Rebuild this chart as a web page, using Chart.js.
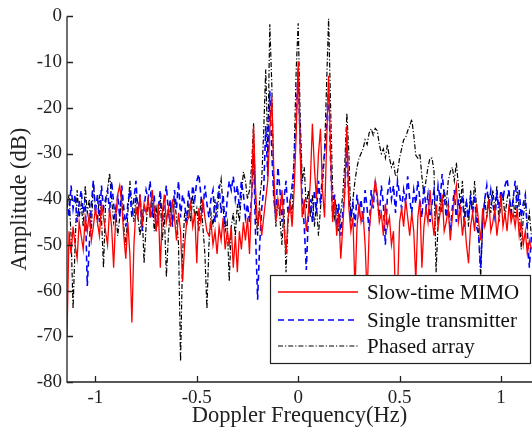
<!DOCTYPE html>
<html>
<head>
<meta charset="utf-8">
<script src="https://cdn.jsdelivr.net/npm/chart.js@4"></script>
<style>
  html, body { margin: 0; padding: 0; background: #fff; }
  #wrap { width: 532px; height: 438px; }
</style>
</head>
<body>
<div id="wrap"><canvas id="spectrum"></canvas></div>
<script>
// frequency grid (Hz): first bin and bin spacing
const freqStart = -1.14
const freqStep = 0.01

const xTicks = [-1, -0.5, 0, 0.5, 1]
const yTicks = [-80, -70, -60, -50, -40, -30, -20, -10, 0]

// Slow-time MIMO (dB)
const mimo = [
  -70, -47, -52, -46, -50, -53, -45, -48, -51, -44,
  -47, -43, -49, -46, -42, -45, -48, -41, -44, -47,
  -50, -42, -46, -55, -44, -39, -37, -41, -48, -53,
  -45, -52, -67, -50, -42, -44, -39, -46, -41, -43,
  -40, -44, -38, -42, -47, -41, -55, -43, -39, -45,
  -42, -46, -40, -44, -49, -43, -47, -58, -50, -45,
  -44, -41, -46, -43, -54, -42, -45, -40, -44, -47,
  -48, -45, -50, -47, -52, -46, -49, -44, -51, -47,
  -50, -46, -55, -48, -56, -47, -51, -45, -49, -44,
  -52, -40, -24, -38, -46, -42, -48, -44, -40, -36,
  -25, -17.6, -34, -45, -40, -43, -38, -46, -52, -44,
  -41, -46, -38, -26, -9.8, -30, -44, -40, -47, -43,
  -36, -23.5, -33, -40, -30, -24.6, -38, -44, -28, -13,
  -30, -45, -40, -48, -43, -53, -46, -38, -24, -42,
  -47, -44, -60, -46, -41, -45, -43, -50, -61, -47,
  -42, -40, -36, -39, -45, -43, -48, -41, -46, -44,
  -50, -47, -62, -60, -45, -42, -46, -40, -44, -48,
  -43, -47, -58, -44, -40, -55, -46, -42, -45, -38,
  -44, -48, -41, -46, -43, -39, -47, -45, -42, -49,
  -44, -40, -37, -45, -42, -48, -44, -50, -54, -46,
  -43, -47, -41, -45, -49, -42, -46, -44, -40, -47,
  -45, -42, -48, -44, -39, -46, -43, -47, -41, -45,
  -43, -46, -42, -48, -45, -50, -47, -52, -49, -51
]

// Single transmitter (dB)
const single = [
  -40, -44, -37, -42, -39, -45, -41, -38, -43, -40,
  -59, -50, -41, -36, -43, -39, -45, -37, -42, -40,
  -38, -43, -36, -41, -45, -39, -44, -37, -42, -46,
  -41, -38, -44, -40, -36, -43, -39, -47, -42, -38,
  -40, -36, -44, -39, -47, -42, -38, -45, -41, -37,
  -43, -40, -46, -38, -42, -36, -44, -39, -41, -45,
  -38, -42, -37, -40, -36, -34.5, -39, -43, -37, -41,
  -44, -40, -38, -45, -41, -37, -43, -39, -46, -40,
  -36, -38, -35, -40, -37, -42, -36, -39, -44, -41,
  -45, -40, -30, -48, -62, -50, -42, -38, -24, -35,
  -16.3, -30, -40, -44, -33, -38, -45, -40, -36, -43,
  -41, -37, -32, -22, -11.5, -28, -40, -46, -55.5, -44,
  -40, -45, -38, -43, -36, -41, -34, -30, -24, -15.6,
  -32, -44, -39, -46, -41, -48, -43, -38, -28, -40,
  -44, -41, -46, -39, -43, -40, -45, -38, -42, -47,
  -38, -42, -36, -40, -44, -37, -41, -50, -39, -36,
  -40, -37, -43, -36, -39, -42, -38, -41, -35, -40,
  -43, -38, -41, -36, -40, -44, -37, -42, -39, -45,
  -41, -38, -43, -37, -40, -34.5, -39, -44, -41, -47,
  -42, -38, -45, -40, -43, -39, -46, -41, -44, -40,
  -43, -39, -46, -48, -55, -45, -40, -37, -42, -38,
  -41, -44, -39, -42, -38, -40, -37, -35.5, -39, -43,
  -40, -36, -42, -38, -44, -41, -39, -47, -55, -48
]

// Phased array (dB)
const phased = [
  -42, -39, -48, -64, -50, -38, -44, -41, -46, -37,
  -43, -40, -47, -36, -42, -45, -39, -44, -55, -41,
  -38, -34.3, -40, -45, -42, -48, -44, -39, -46, -50,
  -43, -36, -41, -45, -39, -44, -48, -42, -54, -46,
  -40, -44, -38, -47, -42, -45, -40, -49, -43, -57,
  -48, -42, -45, -40, -44, -50, -75.5, -52, -43, -46,
  -41, -45, -39, -44, -42, -47, -40, -46, -52, -64,
  -50, -43, -46, -40, -44, -38, -35.5, -42, -47, -45,
  -58, -46, -43, -48, -41, -45, -39, -34, -36, -40,
  -38, -33, -23.4, -42, -48, -40, -36, -25, -11.6, -30,
  -1.7, -15, -38, -46, -40, -44, -50, -42, -56, -45,
  -40, -44, -30, -12, -1.5, -22, -36, -33, -42, -38,
  -44, -39, -46, -41, -48, -42, -37, -30, -15, -0.5,
  -20, -38, -44, -41, -47, -43, -39, -32, -21.2, -30,
  -45, -40, -36, -33, -31, -30, -29, -27, -28, -25.5,
  -24.6, -26, -24.5, -25, -28, -30, -29, -31, -28, -31,
  -33, -32, -35, -34, -31, -29, -27, -26.5, -25, -24,
  -22.5, -26, -30.4, -31, -30, -35, -39, -36, -33, -31,
  -31, -34, -56, -45, -40, -43, -38, -41, -36, -34,
  -33, -36, -32, -37, -41, -36, -44, -40, -46, -38,
  -43, -36, -42, -48, -57, -45, -40, -44, -39, -43,
  -38, -42, -37, -45, -41, -39, -44, -40, -38, -43,
  -40, -44, -37, -42, -51, -44, -40, -46, -43, -48
]

const seriesNames = ['Slow-time MIMO', 'Single transmitter', 'Phased array']
const seriesColors = ['#ff0000', '#0000ff', '#000000']
const seriesDash = [[], [6, 4], [5, 2, 1.2, 2]]
const seriesWidth = [1.3, 1.6, 1.2]

const toPoints = arr => arr.map((v, i) => ({ x: +(freqStart + i * freqStep).toFixed(3), y: v }))

Chart.defaults.font.family = "'Liberation Serif', 'Times New Roman', serif"
Chart.defaults.color = '#222'

// inward tick marks, axis lines and the boxed legend
const axesAndLegend = {
  id: 'axesAndLegend',
  afterDraw(chart) {
    const { ctx, chartArea: a, scales: { x, y } } = chart
    ctx.save()
    ctx.strokeStyle = '#222'
    ctx.lineWidth = 1.3
    ctx.beginPath()
    ctx.moveTo(a.left, a.top)
    ctx.lineTo(a.left, a.bottom)
    ctx.lineTo(a.right, a.bottom)
    xTicks.forEach(v => {
      const px = Math.round(x.getPixelForValue(v)) + 0.5
      ctx.moveTo(px, a.bottom)
      ctx.lineTo(px, a.bottom - 6)
    })
    yTicks.forEach(v => {
      const py = Math.round(y.getPixelForValue(v)) + 0.5
      ctx.moveTo(a.left, py)
      ctx.lineTo(a.left + 6, py)
    })
    ctx.stroke()

    // legend box
    const bx = 270.5, by = 275.5, bw = 260, bh = 88
    ctx.fillStyle = '#fff'
    ctx.fillRect(bx, by, bw, bh)
    ctx.lineWidth = 1.2
    ctx.strokeStyle = '#222'
    ctx.strokeRect(bx, by, bw, bh)
    const rows = [292, 320, 346]
    ctx.font = "21px 'Liberation Serif', serif"
    ctx.textBaseline = 'middle'
    seriesNames.forEach((name, i) => {
      ctx.beginPath()
      ctx.strokeStyle = seriesColors[i]
      ctx.lineWidth = seriesWidth[i]
      ctx.setLineDash(seriesDash[i])
      ctx.moveTo(278, rows[i])
      ctx.lineTo(358, rows[i])
      ctx.stroke()
      ctx.setLineDash([])
      ctx.fillStyle = '#111'
      ctx.fillText(name, 367, rows[i] + 1)
    })
    ctx.restore()
  }
}

new Chart(document.getElementById('spectrum'), {
  type: 'line',
  data: {
    datasets: seriesNames.map((name, i) => ({
      label: name,
      data: toPoints([mimo, single, phased][i]),
      borderColor: seriesColors[i],
      borderDash: seriesDash[i],
      borderWidth: seriesWidth[i],
      pointRadius: 0,
      tension: 0,
      fill: false
    }))
  },
  options: {
    responsive: true,
    maintainAspectRatio: false,
    animation: false,
    events: [],
    layout: { padding: { top: 15, right: 0, left: 0, bottom: 0 } },
    plugins: {
      legend: { display: false },
      tooltip: { enabled: false }
    },
    scales: {
      x: {
        type: 'linear',
        min: -1.14,
        max: 1.153,
        afterBuildTicks: s => { s.ticks = xTicks.map(v => ({ value: v })) },
        afterFit: s => { s.height = 56 },
        grid: { display: false, drawTicks: false },
        border: { display: false },
        ticks: {
          font: { size: 19 },
          padding: 5,
          maxRotation: 0,
          autoSkip: false,
          callback: v => String(v)
        },
        title: {
          display: true,
          text: 'Doppler Frequency(Hz)',
          font: { size: 22.5 },
          padding: { top: 0, bottom: 8 }
        }
      },
      y: {
        min: -80,
        max: 0,
        afterBuildTicks: s => { s.ticks = yTicks.map(v => ({ value: v })) },
        afterFit: s => { s.width = 67 },
        grid: { display: false, drawTicks: false },
        border: { display: false },
        ticks: {
          font: { size: 19 },
          padding: 5,
          callback: v => String(v)
        },
        title: {
          display: true,
          text: 'Amplitude (dB)',
          font: { size: 22.5 },
          padding: { top: 7, bottom: 0 }
        }
      }
    }
  },
  plugins: [axesAndLegend]
})
</script>
</body>
</html>
